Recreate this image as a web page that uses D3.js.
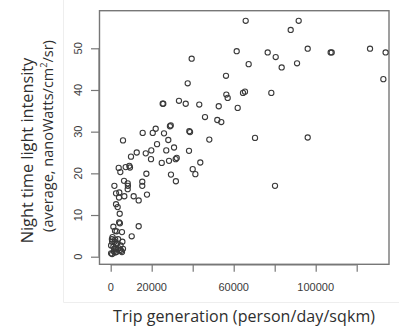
<!DOCTYPE html>
<html>
<head>
<meta charset="utf-8">
<script src="https://cdn.jsdelivr.net/npm/d3@7"></script>
<style>
  body { margin: 0; background: #fff; }
  .tick-label { font-family: "Liberation Sans", Arial, sans-serif; font-size: 11px; fill: #3a3a3a; }
  .title { font-family: "Open Sans", "Noto Sans", sans-serif; font-size: 16px; fill: #2e2e2e; }
</style>
</head>
<body>
<div id="chart"></div>
<script>
// trip generation (person/day/sqkm)
const tripGen = [65850, 91700, 87800, 96100, 61460, 76580, 80490, 107300, 107800, 126500,
  134100, 133000, 67300, 90900, 83400, 39500, 37560, 56240, 78350, 65500,
  64540, 56400, 57070, 61950, 52700, 43200, 36600, 33300, 25360, 25650,
  46000, 52000, 53950, 28900, 29300, 70400, 96100, 48100, 38350, 38700,
  21950, 20500, 15600, 26000, 6000, 28100, 22600, 30900, 27100, 38200,
  12700, 17100, 19800, 9900, 19660, 31700, 32200, 28440, 24900, 43700,
  9100, 9400, 7300, 3900, 4700, 40000, 41300, 29400, 17400, 31800,
  6500, 15400, 8300, 8400, 8300, 1800, 80150, 15400, 2600, 4200,
  17700, 6650, 11200, 13650, 4050, 2600, 3400, 4400, 13650, 10250,
  4100, 4500, 1300, 5500, 2100, 2900, 900, 600, 2200, 5700,
  3600, 200, 1300, 1900, 2600, 3900, 4500, 5200, 200, 700,
  2000, 2800, 5500, 6000, 3200, 2600, 1500, 4800, 700, 1900];
// night time light intensity
const lightInt = [56.6, 56.6, 54.4, 49.9, 49.3, 49.0, 47.9, 49.0, 49.0, 49.9,
  49.0, 42.6, 46.2, 46.4, 45.4, 47.5, 41.6, 43.4, 39.3, 39.6,
  39.3, 38.9, 38.1, 35.7, 36.1, 36.5, 36.7, 37.4, 36.7, 36.7,
  33.5, 32.8, 32.3, 31.3, 31.5, 28.5, 28.6, 28.1, 30.1, 29.9,
  30.7, 29.7, 29.7, 29.6, 27.9, 28.0, 27.0, 26.2, 25.5, 25.4,
  25.0, 24.8, 25.5, 24.0, 23.4, 23.4, 23.7, 23.0, 22.5, 22.6,
  21.8, 21.4, 21.5, 21.3, 20.3, 21.0, 19.8, 19.7, 19.9, 18.1,
  18.2, 18.0, 17.6, 17.0, 16.2, 17.0, 17.0, 17.0, 15.2, 15.4,
  14.9, 14.5, 14.5, 13.5, 14.2, 12.6, 11.9, 10.3, 7.3, 4.9,
  8.2, 8.0, 7.2, 5.9, 6.2, 6.1, 4.7, 4.2, 4.1, 3.6,
  4.2, 2.7, 2.4, 2.0, 1.8, 2.0, 1.6, 1.4, 0.8, 0.65,
  1.0, 1.1, 1.1, 1.9, 3.2, 3.0, 1.3, 2.7, 3.6, 3.6];

const xTicks = [0, 20000, 40000, 60000, 80000, 100000, 120000];
const xTickLabels = [0, 20000, 60000, 100000];
const yTicks = [0, 10, 20, 30, 40, 50];

const width = 399, height = 336;
const box = { left: 99.5, right: 389, top: 10.7, bottom: 264.3 };

const x = d3.scaleLinear().domain([0, 120000]).range([110.7, 356.7]);
const y = d3.scaleLinear().domain([0, 50]).range([256.7, 48.3]);

const svg = d3.select("#chart").append("svg")
  .attr("width", width)
  .attr("height", height);

// faint frame of the pasted image
svg.append("path")
  .attr("d", "M63.5,0V302.5H399")
  .attr("fill", "none")
  .attr("stroke", "#eeeeee");

svg.append("rect")
  .attr("x", box.left)
  .attr("y", box.top)
  .attr("width", box.right - box.left)
  .attr("height", box.bottom - box.top)
  .attr("fill", "none")
  .attr("stroke", "#777")
  .attr("stroke-width", 1.4);

// x axis
const xAxis = svg.append("g").attr("transform", "translate(0," + (box.bottom + 0.5) + ")")
  .call(d3.axisBottom(x).tickValues(xTicks).tickSize(7).tickFormat(""));
xAxis.select(".domain").attr("stroke", "#777").attr("stroke-width", 1.2)
  .attr("d", "M" + x(0) + ",0H" + x(120000));
xAxis.selectAll(".tick line").attr("stroke", "#777").attr("stroke-width", 1.2);

svg.selectAll(".xlab")
  .data(xTickLabels)
  .enter().append("text")
  .attr("class", "tick-label")
  .attr("x", d => x(d))
  .attr("y", 291)
  .attr("text-anchor", "middle")
  .text(d => String(d));

// y axis
const yAxis = svg.append("g").attr("transform", "translate(" + (box.left - 0.5) + ",0)")
  .call(d3.axisLeft(y).tickValues(yTicks).tickSize(8).tickFormat(""));
yAxis.select(".domain").attr("stroke", "#777").attr("stroke-width", 1.2)
  .attr("d", "M0," + y(0) + "V" + y(50));
yAxis.selectAll(".tick line").attr("stroke", "#777").attr("stroke-width", 1.2);

svg.selectAll(".ylab")
  .data(yTicks)
  .enter().append("text")
  .attr("class", "tick-label")
  .attr("transform", d => "translate(82," + y(d) + ") rotate(-90)")
  .attr("text-anchor", "middle")
  .text(d => String(d));

// points
svg.append("g").selectAll("circle")
  .data(tripGen)
  .enter().append("circle")
  .attr("cx", d => x(d))
  .attr("cy", (d, i) => y(lightInt[i]))
  .attr("r", 2.6)
  .attr("fill", "none")
  .attr("stroke", "#3a3a3a")
  .attr("stroke-width", 1.1);

// titles
svg.append("text")
  .attr("class", "title")
  .attr("x", 244)
  .attr("y", 322)
  .attr("text-anchor", "middle")
  .attr("textLength", 262)
  .text("Trip generation (person/day/sqkm)");

svg.append("text")
  .attr("class", "title")
  .attr("text-anchor", "middle")
  .style("font-size", "16.3px")
  .attr("transform", "translate(33,150.5) rotate(-90)")
  .text("Night time light intensity");

const t2 = svg.append("text")
  .attr("class", "title")
  .attr("text-anchor", "middle")
  .style("font-size", "14.5px")
  .attr("transform", "translate(53,136) rotate(-90)");
t2.append("tspan").text("(average, nanoWatts/cm");
t2.append("tspan").style("font-size", "9px").attr("dy", -6).text("2");
t2.append("tspan").attr("dy", 6).text("/sr)");
</script>
</body>
</html>
